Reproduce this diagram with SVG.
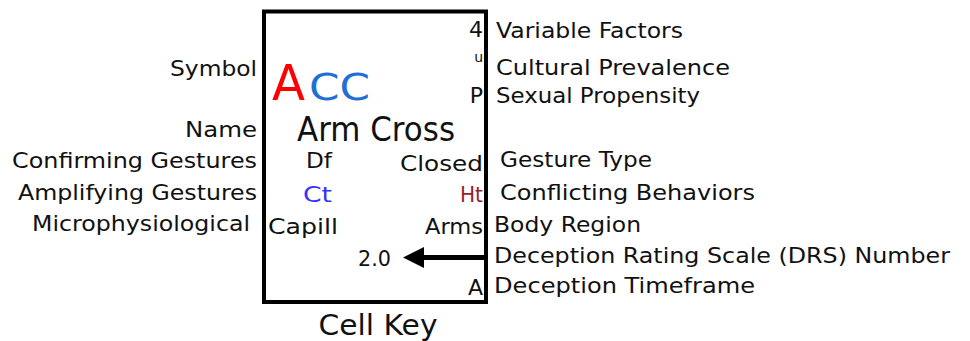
<svg xmlns="http://www.w3.org/2000/svg" width="970" height="341" viewBox="0 0 970 341">
<style>
text{font-family:"DejaVu Sans","Liberation Sans",sans-serif;font-size:21px;fill:#111;}
.r{text-anchor:end;}
.s{font-size:14px;}
.big{font-size:33px;}
.ttl{font-size:28px;}
</style>
<rect width="970" height="341" fill="#fff"/>
<g id="cell">
<rect x="264" y="11.5" width="222" height="290.5" fill="none" stroke="#000" stroke-width="4"/>
<text x="272" y="100" style="font-size:50px;fill:#ff0000" textLength="33" lengthAdjust="spacingAndGlyphs">A</text>
<text x="309" y="100" style="font-size:38px;fill:#1f6fd6" textLength="61" lengthAdjust="spacingAndGlyphs">CC</text>
<text x="297" y="141" class="big" textLength="158" lengthAdjust="spacingAndGlyphs">Arm Cross</text>
<text x="483" y="37" class="r" style="font-size:22px">4</text>
<text x="483" y="62" class="r s">u</text>
<text x="483" y="103" class="r" style="font-size:22px">P</text>
<text x="306" y="168" textLength="26" lengthAdjust="spacingAndGlyphs">Df</text>
<text x="483" y="171" class="r" textLength="83" lengthAdjust="spacingAndGlyphs">Closed</text>
<text x="303" y="202" style="fill:#3333ff" textLength="29" lengthAdjust="spacingAndGlyphs">Ct</text>
<text x="483" y="202" class="r" style="fill:#9b1c2a" textLength="23" lengthAdjust="spacingAndGlyphs">Ht</text>
<text x="268" y="234" textLength="70" lengthAdjust="spacingAndGlyphs">Capill</text>
<text x="483" y="234" class="r" textLength="58" lengthAdjust="spacingAndGlyphs">Arms</text>
<text x="358" y="266" textLength="33" lengthAdjust="spacingAndGlyphs">2.0</text>
<text x="483" y="295" class="r" style="font-size:22px">A</text>
<text x="378" y="335" class="ttl" text-anchor="middle" textLength="119" lengthAdjust="spacingAndGlyphs">Cell Key</text>
</g>
<g id="left-labels">
<text x="257" y="76" class="r" textLength="87" lengthAdjust="spacingAndGlyphs">Symbol</text>
<text x="257" y="137" class="r" textLength="72" lengthAdjust="spacingAndGlyphs">Name</text>
<text x="257" y="168" class="r" textLength="245" lengthAdjust="spacingAndGlyphs">Confirming Gestures</text>
<text x="257" y="200" class="r" textLength="239" lengthAdjust="spacingAndGlyphs">Amplifying Gestures</text>
<text x="250" y="231" class="r" textLength="218" lengthAdjust="spacingAndGlyphs">Microphysiological</text>
</g>
<g id="right-labels">
<text x="496" y="38" textLength="187" lengthAdjust="spacingAndGlyphs">Variable Factors</text>
<text x="496" y="75" textLength="234" lengthAdjust="spacingAndGlyphs">Cultural Prevalence</text>
<text x="496" y="103" textLength="204" lengthAdjust="spacingAndGlyphs">Sexual Propensity</text>
<text x="500" y="167" textLength="152" lengthAdjust="spacingAndGlyphs">Gesture Type</text>
<text x="500" y="200" textLength="255" lengthAdjust="spacingAndGlyphs">Conflicting Behaviors</text>
<text x="494" y="232" textLength="147" lengthAdjust="spacingAndGlyphs">Body Region</text>
<text x="494" y="263" textLength="456" lengthAdjust="spacingAndGlyphs">Deception Rating Scale (DRS) Number</text>
<text x="494" y="293" textLength="261" lengthAdjust="spacingAndGlyphs">Deception Timeframe</text>
</g>
<g id="connectors">
<line x1="486" y1="257.5" x2="422" y2="257.5" stroke="#000" stroke-width="5"/>
<path d="M403,257.5 L424,247 L424,268 Z" fill="#000"/>
</g>
</svg>
